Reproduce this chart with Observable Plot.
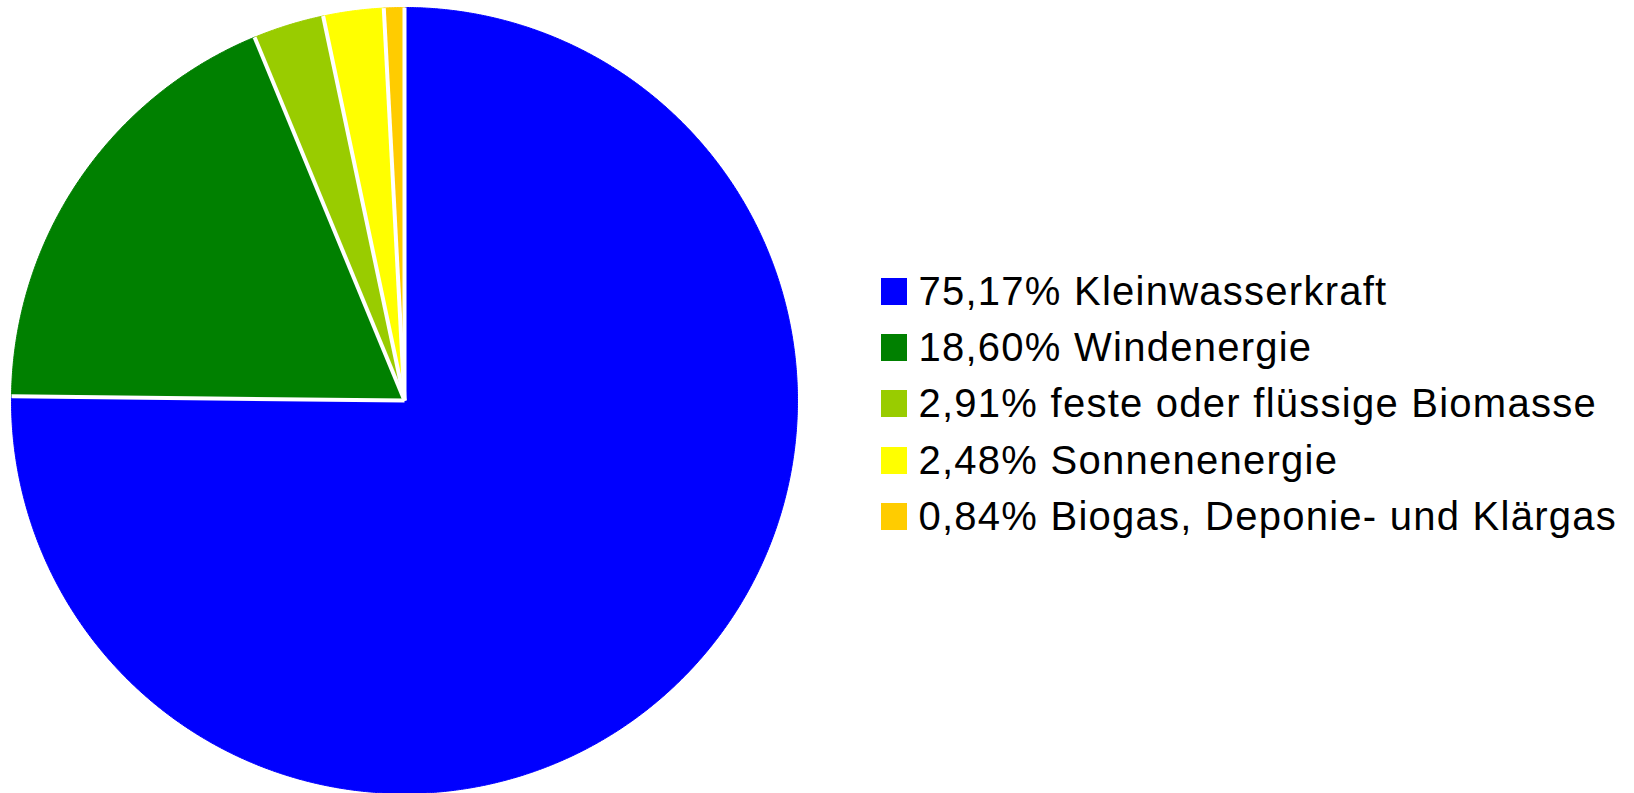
<!DOCTYPE html>
<html>
<head>
<meta charset="utf-8">
<script src="https://cdn.jsdelivr.net/npm/d3@7"></script>
<script src="https://cdn.jsdelivr.net/npm/@observablehq/plot@0.6"></script>
<style>
  html, body { margin: 0; padding: 0; background: #fff; overflow: hidden; }
  #wrap { position: relative; width: 1634px; height: 793px; }
  #legend { position: absolute; left: 881px; top: 263px; width: 750px; }
  #legend .lg-swatches { margin: 0; font-family: "Liberation Sans", Arial, sans-serif; font-size: 40px; letter-spacing: 1.25px; color: #000; }
  #legend .lg-swatch { height: 56.4px; padding-bottom: 0; display: flex; align-items: center; }
  #legend .lg-swatch > svg { margin-right: 11.5px; }
  #legend .lg-swatch-label { overflow: visible; }
</style>
</head>
<body>
<div id="wrap"></div>
<script>
// ---- data ----
const categories = [
  "Kleinwasserkraft",
  "Windenergie",
  "feste oder flüssige Biomasse",
  "Sonnenenergie",
  "Biogas, Deponie- und Klärgas"
];
const shares = [75.17, 18.60, 2.91, 2.48, 0.84];
const colors = ["#0000ff", "#008000", "#99cc00", "#ffff00", "#ffcc00"];

// ---- build slices ----
const de = d3.formatLocale({decimal: ",", thousands: ".", grouping: [3], currency: ["", " €"]});
const pct = de.format(".2f");
const rows = categories.map((c, i) => ({category: c, share: shares[i]}));
const labelOf = new Map(rows.map(d => [d.category, pct(d.share) + "% " + d.category]));

const arcs = d3.pie().sort(null).value(d => d.share)(rows);
const pt = a => [Math.sin(a), -Math.cos(a)];
const step = Math.PI / 720;

const slices = {
  type: "FeatureCollection",
  features: arcs.map(a => {
    const n = Math.max(2, Math.ceil((a.endAngle - a.startAngle) / step));
    const ring = [[0, 0]];
    for (let k = 0; k <= n; ++k) ring.push(pt(a.startAngle + (a.endAngle - a.startAngle) * k / n));
    ring.push([0, 0]);
    return {type: "Feature", properties: {category: a.data.category}, geometry: {type: "Polygon", coordinates: [ring]}};
  })
};
const separators = {
  type: "FeatureCollection",
  features: arcs.map(a => ({type: "Feature", properties: {}, geometry: {type: "LineString", coordinates: [[0, 0], pt(a.startAngle)]}}))
};
const outline = {type: "Polygon", coordinates: [d3.range(0, 361).map(d => pt(d * Math.PI / 180))]};

const chart = Plot.plot({
  width: 1634,
  height: 793,
  marginLeft: 11,
  marginRight: 837,
  marginTop: 7,
  marginBottom: 0,
  projection: {type: "identity", domain: outline},
  color: {domain: categories, range: colors},
  marks: [
    Plot.geo(slices.features, {fill: d => d.properties.category, stroke: d => d.properties.category, strokeWidth: 1}),
    Plot.geo(separators.features, {stroke: "white", strokeWidth: 4, strokeLinecap: "butt"})
  ]
});

const wrap = document.getElementById("wrap");
wrap.appendChild(chart);

const legendDiv = document.createElement("div");
legendDiv.id = "legend";
legendDiv.appendChild(chart.legend("color", {
  className: "lg",
  columns: 1,
  swatchWidth: 26,
  swatchHeight: 27,
  tickFormat: d => labelOf.get(d)
}));
wrap.appendChild(legendDiv);
</script>
</body>
</html>
